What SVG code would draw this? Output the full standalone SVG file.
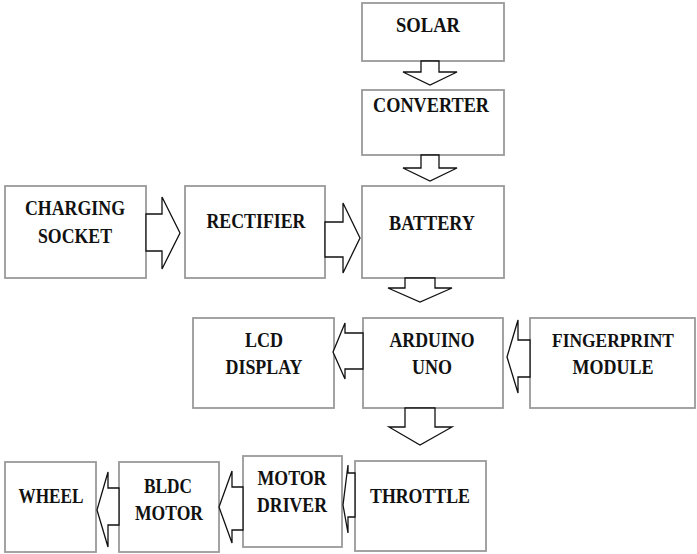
<svg xmlns="http://www.w3.org/2000/svg" width="697" height="554" viewBox="0 0 697 554">
<style>
.box{fill:#fff;stroke:#9a9a9a;stroke-width:1.8}
.lbl{font-family:"Liberation Serif","Times New Roman",serif;font-weight:bold;font-size:21px;fill:#111;text-anchor:middle}
.sm{font-size:19px}
.arr{fill:#fff;stroke:#111;stroke-width:1.3;stroke-linejoin:miter}
</style>
<rect width="697" height="554" fill="#fff"/>
<g id="solar"><rect class="box" x="362" y="3" width="142" height="58"/><text class="lbl" x="428" y="32" textLength="64" lengthAdjust="spacingAndGlyphs">SOLAR</text></g>
<g id="converter"><rect class="box" x="362" y="90" width="142" height="65"/><text class="lbl" x="431" y="112" textLength="116" lengthAdjust="spacingAndGlyphs">CONVERTER</text></g>
<g id="charging-socket"><rect class="box" x="5" y="186" width="141" height="92"/><text class="lbl" x="75" y="215" textLength="100" lengthAdjust="spacingAndGlyphs">CHARGING</text><text class="lbl" x="75" y="243" textLength="74" lengthAdjust="spacingAndGlyphs">SOCKET</text></g>
<g id="rectifier"><rect class="box" x="185" y="186" width="140" height="92"/><text class="lbl" x="256" y="228" textLength="99" lengthAdjust="spacingAndGlyphs">RECTIFIER</text></g>
<g id="battery"><rect class="box" x="362" y="186" width="142" height="92"/><text class="lbl" x="432" y="230" textLength="86" lengthAdjust="spacingAndGlyphs">BATTERY</text></g>
<g id="lcd-display"><rect class="box" x="193" y="318" width="141" height="90"/><text class="lbl" x="264" y="347" textLength="38" lengthAdjust="spacingAndGlyphs">LCD</text><text class="lbl" x="264" y="374" textLength="77" lengthAdjust="spacingAndGlyphs">DISPLAY</text></g>
<g id="arduino-uno"><rect class="box" x="363" y="318" width="140" height="90"/><text class="lbl" x="432" y="347" textLength="85" lengthAdjust="spacingAndGlyphs">ARDUINO</text><text class="lbl" x="432" y="374" textLength="40" lengthAdjust="spacingAndGlyphs">UNO</text></g>
<g id="fingerprint-module"><rect class="box" x="530" y="318" width="165" height="90"/><text class="lbl sm" x="613" y="347" textLength="122" lengthAdjust="spacingAndGlyphs">FINGERPRINT</text><text class="lbl" x="613" y="374" textLength="81" lengthAdjust="spacingAndGlyphs">MODULE</text></g>
<g id="wheel"><rect class="box" x="5" y="462" width="91" height="90"/><text class="lbl" x="51" y="503" textLength="65" lengthAdjust="spacingAndGlyphs">WHEEL</text></g>
<g id="bldc-motor"><rect class="box" x="119" y="462" width="100" height="90"/><text class="lbl" x="168" y="493" textLength="48" lengthAdjust="spacingAndGlyphs">BLDC</text><text class="lbl" x="169" y="520" textLength="68" lengthAdjust="spacingAndGlyphs">MOTOR</text></g>
<g id="motor-driver"><rect class="box" x="243" y="456" width="99" height="91"/><text class="lbl" x="292" y="485" textLength="69" lengthAdjust="spacingAndGlyphs">MOTOR</text><text class="lbl" x="292" y="512" textLength="70" lengthAdjust="spacingAndGlyphs">DRIVER</text></g>
<g id="throttle"><rect class="box" x="355" y="461" width="131" height="90"/><text class="lbl" x="420" y="503" textLength="100" lengthAdjust="spacingAndGlyphs">THROTTLE</text></g>
<g id="connectors">
<polygon class="arr" points="421,61 439,61 439,72 457,72 430,85 403,72 421,72 421,61"/>
<polygon class="arr" points="421,155 439,155 439,168 457,168 430,181 403,168 421,168 421,155"/>
<polygon class="arr" points="146,214 162,214 162,197 180,233 162,269 162,251 146,251"/>
<polygon class="arr" points="325,222 343,222 343,203 360,238 343,273 343,257 325,257"/>
<polygon class="arr" points="405,278 435,278 435,288 452,288 420,302 388,288 405,288"/>
<polygon class="arr" points="363,333 345,333 345,323 333,352 345,379 345,369 363,369"/>
<polygon class="arr" points="530,340 518,340 518,320 507,357 518,393 518,377 530,377"/>
<polygon class="arr" points="405,408 435,408 435,427 452,427 420,445 389,427 405,427"/>
<polygon class="arr" points="355,473 348,473 348,465 343,505 348,533 348,517 355,517"/>
<polygon class="arr" points="243,487 232,487 232,471 219,507 232,543 232,530 243,530"/>
<polygon class="arr" points="119,488 108,488 108,472 97,510 108,547 108,525 119,525"/>
</g>
</svg>
